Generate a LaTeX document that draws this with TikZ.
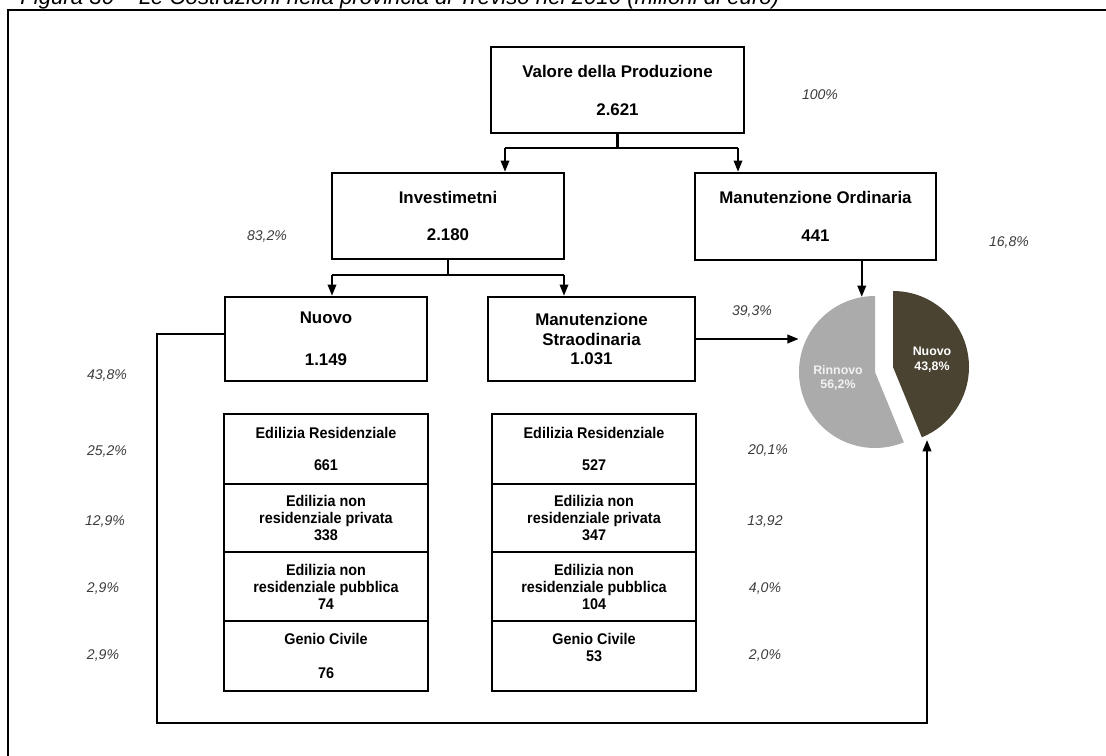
\documentclass[tikz,border=0pt]{standalone}
\usepackage{fontspec}
\setmainfont{Liberation Sans}
\newfontfamily\narrowfont{Liberation Sans}[FakeStretch=0.93]
\usetikzlibrary{arrows.meta,positioning}
\definecolor{pctgray}{RGB}{60,60,60}
\definecolor{pielight}{RGB}{171,171,171}
\definecolor{piedark}{RGB}{74,67,50}

\begin{document}
\begin{tikzpicture}[x=0.025cm, y=0.025cm,
    bigbox/.style={draw, line width=1.7pt, inner sep=0pt, align=center,
                   font=\fontsize{12}{14}\selectfont\bfseries},
    cell/.style={draw, line width=1.5pt, inner sep=0pt, outer sep=0pt, align=center,
                 minimum width=5.12cm, minimum height=1.72cm,
                 font=\narrowfont\fontsize{11}{12}\selectfont\bfseries},
    pct/.style={font=\fontsize{10}{12}\selectfont\itshape, text=pctgray, inner sep=0pt},
    pielbl/.style={font=\fontsize{8.8}{10.5}\selectfont\bfseries, align=center, inner sep=0pt},
    arr/.style={-{Triangle[length=8pt,width=6pt]}, line width=1.5pt},
    link/.style={line width=1.5pt}
  ]
    \useasboundingbox (0,0) rectangle (1106,-756);
    \begin{scope}
      \clip (0,0) rectangle (1106,-756);
      \node[anchor=base west, inner sep=0pt, font=\fontsize{15.8}{18}\selectfont\itshape] (cap)
        at (20,-5) {Figura 30 – Le Costruzioni nella provincia di Treviso nel 2010 (milioni di euro)};
    \end{scope}
    \draw[line width=1.5pt] (8,-756) -- (8,-10) -- (1106,-10);

    % main boxes
    \node[bigbox, minimum width=6.325cm, minimum height=2.15cm] (vp) at (617.5,-90)
      {Valore della Produzione\\[13pt]2.621};
    \node[bigbox, minimum width=5.8cm, minimum height=2.15cm] (inv) at (448,-216)
      {Investimetni\\[12.5pt]2.180};
    \node[bigbox, minimum width=6.025cm, minimum height=2.175cm] (mo) at (815.5,-216.5)
      {Manutenzione Ordinaria\\[13pt]441};
    \node[bigbox, minimum width=5.05cm, minimum height=2.1cm] (nv) at (326,-339)
      {Nuovo\\[16pt]1.149};
    \node[bigbox, minimum width=5.175cm, minimum height=2.1cm] (ms) at (591.5,-339)
      {Manutenzione\\Straodinaria\\1.031};

    % cells
    \node[cell, minimum height=1.73cm] (nv1) at (326,-449) {Edilizia Residenziale\\[11pt]661};
    \node[cell, below=0pt of nv1] (nv2) {Edilizia non\\residenziale privata\\338};
    \node[cell, below=0pt of nv2] (nv3) {Edilizia non\\residenziale pubblica\\74};
    \node[cell, below=0pt of nv3, minimum height=1.75cm] (nv4) {Genio Civile\\[12pt]76};
    \node[cell, minimum height=1.73cm] (ms1) at (594,-449) {Edilizia Residenziale\\[11pt]527};
    \node[cell, below=0pt of ms1] (ms2) {Edilizia non\\residenziale privata\\347};
    \node[cell, below=0pt of ms2] (ms3) {Edilizia non\\residenziale pubblica\\104};
    \node[cell, below=0pt of ms3, minimum height=1.75cm] (ms4) {Genio Civile\\53\\[0pt]~};

    % pie
    \fill[pielight] (875,-372) -- (875,-296) arc[start angle=90, end angle=292.3, radius=76] -- cycle;
    \fill[piedark] (893,-367) -- (893,-291) arc[start angle=90, end angle=-67.7, radius=76] -- cycle;
    \node[circle, minimum size=3.8cm, inner sep=0pt] (pie) at (875,-372) {};
    \node[pielbl, text=white!90!gray] (rinlbl) at (838,-378) {Rinnovo\\56,2\%};
    \node[pielbl, text=white] (nuolbl) at (932,-360) {Nuovo\\43,8\%};

    % percentages
    \node[pct] (pvp) at (820,-95) {100\%};
    \node[pct] (pinv) at (267,-236) {83,2\%};
    \node[pct] (pmo) at (1009,-242) {16,8\%};
    \node[pct] (pnv) at (107,-375) {43,8\%};
    \node[pct] (pms) at (752,-311) {39,3\%};
    \node[pct] (pnv1) at (107,-451) {25,2\%};
    \node[pct] (pnv2) at (105,-521) {12,9\%};
    \node[pct] (pnv3) at (103,-588) {2,9\%};
    \node[pct] (pnv4) at (103,-655) {2,9\%};
    \node[pct] (pms1) at (768,-450) {20,1\%};
    \node[pct] (pms2) at (765,-521) {13,92};
    \node[pct] (pms3) at (765,-588) {4,0\%};
    \node[pct] (pms4) at (765,-655) {2,0\%};

    % connectors
    \coordinate (vpl) at (505,-148);
    \coordinate (vpr) at (738,-148);
    \draw[link] (vp.south) -- (vp.south |- vpl);
    \draw[link] (vpl) -- (vpr);
    \draw[arr] (vpl) -- (vpl |- inv.north);
    \draw[arr] (vpr) -- (vpr |- mo.north);

    \coordinate (ijl) at (332,-275);
    \coordinate (ijr) at (564,-275);
    \draw[link] (inv.south) -- (inv.south |- ijl);
    \draw[link] (ijl) -- (ijr);
    \draw[arr] (ijl) -- (ijl |- nv.north);
    \draw[arr] (ijr) -- (ijr |- ms.north);

    \draw[arr] (pie.100 |- mo.south) -- (pie.100);
    \draw[arr] (ms.east) -- (ms.east -| pie.west);

    \coordinate (loopc) at (157,-723);
    \coordinate (nvtip) at (927,-440);
    \draw[arr] ([yshift=0.12cm]nv.west) -| (loopc) -| (nvtip);
\end{tikzpicture}
\end{document}
